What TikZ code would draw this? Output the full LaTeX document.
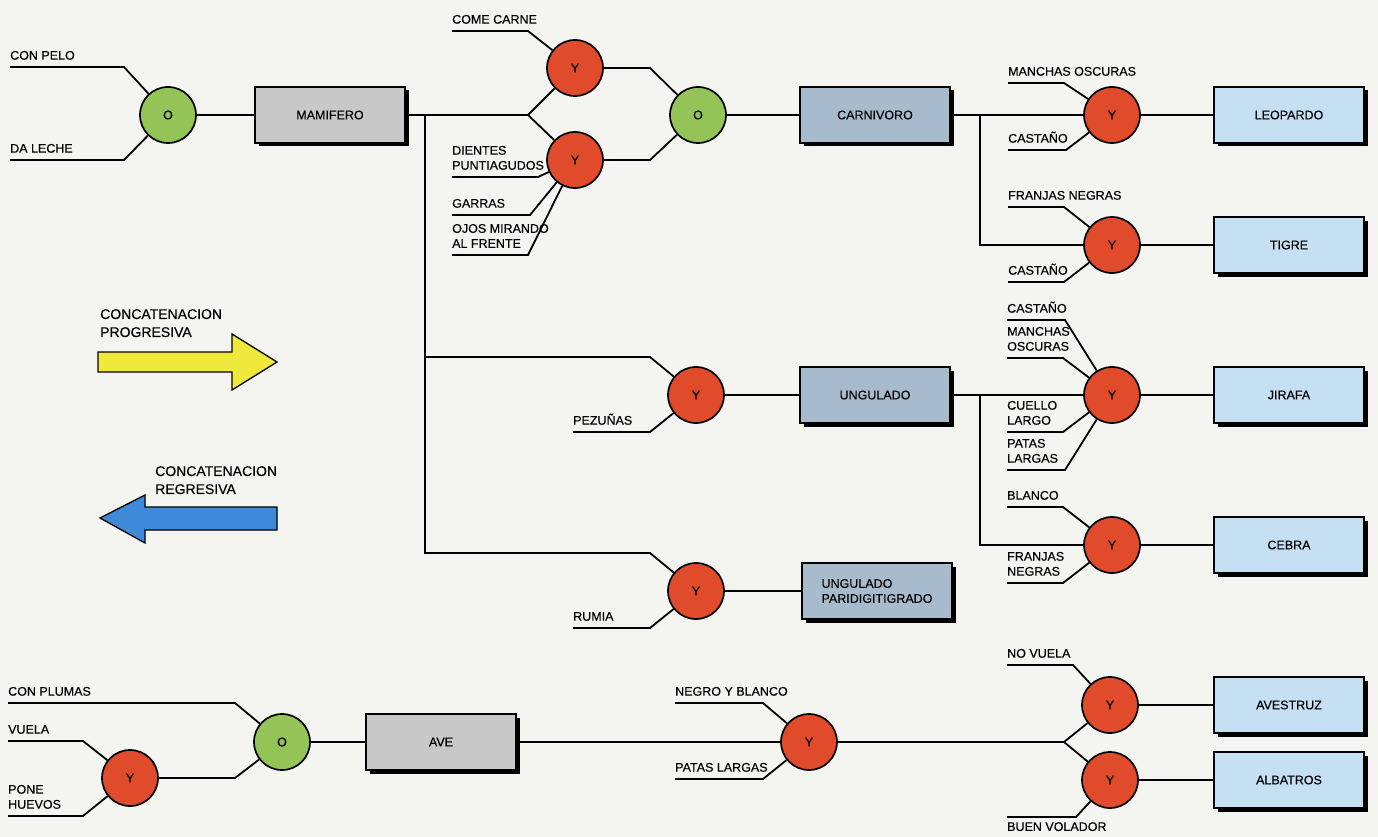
\documentclass[tikz,border=0pt]{standalone}
\usepackage{fontspec}
\setmainfont{Liberation Sans}[FakeBold=0.35]
\usetikzlibrary{shadows}

\definecolor{paper}{HTML}{F4F4F1}
\definecolor{andred}{HTML}{DF4B2B}
\definecolor{orgreen}{HTML}{94C458}
\definecolor{greybox}{HTML}{C8C8C8}
\definecolor{steelbox}{HTML}{A8BBCC}
\definecolor{leafbox}{HTML}{C4E0F2}
\definecolor{arrowyellow}{HTML}{EFE93B}
\definecolor{arrowblue}{HTML}{3F8BDA}

\newcommand\labfont{\fontsize{12.5}{15}\selectfont}
\newcommand\bigfont{\fontsize{14}{18}\selectfont}

\tikzset{
  gate/.style={circle, draw=black, line width=1.7pt, minimum size=56pt,
    inner sep=0pt, font=\labfont},
  andgate/.style={gate, fill=andred},
  orgate/.style={gate, fill=orgreen},
  classbox/.style={rectangle, draw=black, line width=1.1pt,
    minimum width=150pt, minimum height=56pt, inner sep=2pt, align=left,
    font=\labfont,
    drop shadow={shadow xshift=3.5pt, shadow yshift=-3.5pt, fill=black, opacity=1}},
  greyclass/.style={classbox, fill=greybox},
  steelclass/.style={classbox, fill=steelbox},
  leafclass/.style={classbox, fill=leafbox},
  wire/.style={line width=1.8pt, draw=black},
  lab/.style={inner sep=0pt, anchor=south west, align=left, font=\labfont},
  labbelow/.style={lab, anchor=north west},
  biglab/.style={inner sep=0pt, anchor=north west, align=left, font=\bigfont},
  bigarrow/.style={draw=black, line width=1.3pt},
}

\begin{document}
\begin{tikzpicture}[x=1pt, y=-1pt]
  \fill[paper] (0,0) rectangle (1378,837);
  \useasboundingbox (0,0) rectangle (1378,837);

  % ---------- gates ----------
  \node[orgate]  (o1)        at (168,115)  {O};
  \node[andgate] (ycarne)    at (575,68)   {Y};
  \node[andgate] (ydientes)  at (575,160)  {Y};
  \node[orgate]  (o2)        at (698,115)  {O};
  \node[andgate] (yleo)      at (1112,115) {Y};
  \node[andgate] (ytigre)    at (1112,245) {Y};
  \node[andgate] (ypez)      at (696,395)  {Y};
  \node[andgate] (yrumia)    at (696,591)  {Y};
  \node[andgate] (yjir)      at (1112,395) {Y};
  \node[andgate] (ycebra)    at (1112,545) {Y};
  \node[andgate] (yvuela)    at (130,778)  {Y};
  \node[orgate]  (o3)        at (282,742)  {O};
  \node[andgate] (ynegro)    at (809,742)  {Y};
  \node[andgate] (yavestruz) at (1110,705) {Y};
  \node[andgate] (yalbatros) at (1110,780) {Y};

  % ---------- classes ----------
  \node[greyclass]  (mam)      at (330,115)  {MAMIFERO};
  \node[steelclass] (carn)     at (875,115)  {CARNIVORO};
  \node[steelclass] (ung)      at (875,395)  {UNGULADO};
  \node[steelclass] (parid)    at (877,591)  {UNGULADO\\PARIDIGITIGRADO};
  \node[leafclass]  (leo)      at (1289,115) {LEOPARDO};
  \node[leafclass]  (tigre)    at (1289,245) {TIGRE};
  \node[leafclass]  (jirafa)   at (1289,395) {JIRAFA};
  \node[leafclass]  (cebra)    at (1289,545) {CEBRA};
  \node[greyclass]  (ave)      at (441,742)  {AVE};
  \node[leafclass]  (avestruz) at (1289,705) {AVESTRUZ};
  \node[leafclass]  (albatros) at (1289,780) {ALBATROS};

  % ---------- mammal ----------
  \coordinate (conpelo) at (10,67);
  \coordinate (daleche) at (10,160);
  \node[lab] at ([yshift=7pt]conpelo) {CON PELO};
  \node[lab] at ([yshift=7pt]daleche) {DA LECHE};
  \draw[wire] (conpelo) -- ++(114,0) -- (o1);
  \draw[wire] (daleche) -- ++(114,0) -- (o1);
  \draw[wire] (o1) -- (mam);

  \coordinate (split) at (528,115);
  \coordinate (trunk) at (425,115);
  \draw[wire] (mam) -- (split);
  \draw[wire] (split) -- (ycarne);
  \draw[wire] (split) -- (ydientes);
  \draw[wire] (trunk) |- (650,357) -- (ypez);
  \draw[wire] (trunk) |- (650,553) -- (yrumia);

  % ---------- carnivore ----------
  \coordinate (comecarne) at (452,31);
  \coordinate (dientes)   at (452,177);
  \coordinate (garras)    at (452,215);
  \coordinate (ojos)      at (452,255);
  \node[lab] at ([yshift=7pt]comecarne) {COME CARNE};
  \node[lab] at ([yshift=7pt]dientes)   {DIENTES\\PUNTIAGUDOS};
  \node[lab] at ([yshift=7pt]garras)    {GARRAS};
  \node[lab] at ([yshift=7pt]ojos)      {OJOS MIRANDO\\AL FRENTE};
  \draw[wire] (comecarne) -- ++(76,0) -- (ycarne);
  \draw[wire] (dientes) -- ++(86,0) -- (ydientes);
  \draw[wire] (garras) -- ++(78,0) -- (ydientes);
  \draw[wire] (ojos) -- ++(76,0) -- (ydientes);
  \draw[wire] (ycarne) -- (650,68) -- (o2);
  \draw[wire] (ydientes) -- (650,160) -- (o2);
  \draw[wire] (o2) -- (carn);

  \coordinate (carnfork) at (980,115);
  \draw[wire] (carn) -- (yleo);
  \draw[wire] (carnfork) |- (ytigre);

  \coordinate (manchasleo) at (1008,83);
  \coordinate (castleo)    at (1008,150);
  \coordinate (franjastig) at (1008,207);
  \coordinate (casttig)    at (1008,282);
  \node[lab] at ([yshift=7pt]manchasleo) {MANCHAS OSCURAS};
  \node[lab] at ([yshift=7pt]castleo)    {CASTAÑO};
  \node[lab] at ([yshift=7pt]franjastig) {FRANJAS NEGRAS};
  \node[lab] at ([yshift=7pt]casttig)    {CASTAÑO};
  \draw[wire] (manchasleo) -- ++(56,0) -- (yleo);
  \draw[wire] (castleo) -- ++(58,0) -- (yleo);
  \draw[wire] (franjastig) -- ++(56,0) -- (ytigre);
  \draw[wire] (casttig) -- ++(56,0) -- (ytigre);
  \draw[wire] (yleo) -- (leo);
  \draw[wire] (ytigre) -- (tigre);

  % ---------- ungulate ----------
  \coordinate (pezunas) at (573,432);
  \coordinate (rumia)   at (573,628);
  \node[lab] at ([yshift=7pt]pezunas) {PEZUÑAS};
  \node[lab] at ([yshift=7pt]rumia)   {RUMIA};
  \draw[wire] (pezunas) -- ++(77,0) -- (ypez);
  \draw[wire] (rumia) -- ++(77,0) -- (yrumia);
  \draw[wire] (ypez) -- (ung);
  \draw[wire] (yrumia) -- (parid);

  \coordinate (ungfork) at (980,395);
  \draw[wire] (ung) -- (yjir);
  \draw[wire] (ungfork) |- (ycebra);

  \coordinate (castjir)    at (1007,320);
  \coordinate (manchasjir) at (1007,358);
  \coordinate (cuello)     at (1007,432);
  \coordinate (patasjir)   at (1007,470);
  \coordinate (blanco)     at (1007,507);
  \coordinate (franjasceb) at (1007,583);
  \node[lab] at ([yshift=7pt]castjir)    {CASTAÑO};
  \node[lab] at ([yshift=7pt]manchasjir) {MANCHAS\\OSCURAS};
  \node[lab] at ([yshift=7pt]cuello)     {CUELLO\\LARGO};
  \node[lab] at ([yshift=7pt]patasjir)   {PATAS\\LARGAS};
  \node[lab] at ([yshift=7pt]blanco)     {BLANCO};
  \node[lab] at ([yshift=7pt]franjasceb) {FRANJAS\\NEGRAS};
  \draw[wire] (castjir) -- ++(58,0) -- (yjir);
  \draw[wire] (manchasjir) -- ++(56,0) -- (yjir);
  \draw[wire] (cuello) -- ++(56,0) -- (yjir);
  \draw[wire] (patasjir) -- ++(58,0) -- (yjir);
  \draw[wire] (blanco) -- ++(56,0) -- (ycebra);
  \draw[wire] (franjasceb) -- ++(56,0) -- (ycebra);
  \draw[wire] (yjir) -- (jirafa);
  \draw[wire] (ycebra) -- (cebra);

  % ---------- bird ----------
  \coordinate (conplumas)  at (8,703);
  \coordinate (vuela)      at (8,741);
  \coordinate (ponehuevos) at (8,816);
  \node[lab] at ([yshift=7pt]conplumas)  {CON PLUMAS};
  \node[lab] at ([yshift=7pt]vuela)      {VUELA};
  \node[lab] at ([yshift=7pt]ponehuevos) {PONE\\HUEVOS};
  \draw[wire] (conplumas) -- ++(227,0) -- (o3);
  \draw[wire] (vuela) -- ++(75,0) -- (yvuela);
  \draw[wire] (ponehuevos) -- ++(75,0) -- (yvuela);
  \draw[wire] (yvuela) -- (235,778) -- (o3);
  \draw[wire] (o3) -- (ave);
  \draw[wire] (ave) -- (ynegro);

  \coordinate (negro)    at (675,703);
  \coordinate (patasave) at (675,779);
  \node[lab] at ([yshift=7pt]negro)    {NEGRO Y BLANCO};
  \node[lab] at ([yshift=7pt]patasave) {PATAS LARGAS};
  \draw[wire] (negro) -- ++(88,0) -- (ynegro);
  \draw[wire] (patasave) -- ++(88,0) -- (ynegro);

  \coordinate (avfork) at (1064,742);
  \draw[wire] (ynegro) -- (avfork);
  \draw[wire] (avfork) -- (yavestruz);
  \draw[wire] (avfork) -- (yalbatros);

  \coordinate (novuela)     at (1007,665);
  \coordinate (buenvolador) at (1007,817);
  \node[lab] at ([yshift=7pt]novuela) {NO VUELA};
  \node[labbelow] at ([yshift=-5pt]buenvolador) {BUEN VOLADOR};
  \draw[wire] (novuela) -- ++(66,0) -- (yavestruz);
  \draw[wire] (buenvolador) -- ++(69,0) -- (yalbatros);
  \draw[wire] (yavestruz) -- (avestruz);
  \draw[wire] (yalbatros) -- (albatros);

  % ---------- legend arrows ----------
  \node[biglab] (proglab) at (100,309) {CONCATENACION\\PROGRESIVA};
  \filldraw[bigarrow, fill=arrowyellow]
    (98,352) -- (232,352) -- (232,334) -- (277,362) -- (232,390)
    -- (232,372) -- (98,372) -- cycle;
  \node[biglab] (reglab) at (155,466) {CONCATENACION\\REGRESIVA};
  \filldraw[bigarrow, fill=arrowblue]
    (277,507) -- (145,507) -- (145,495) -- (100,518) -- (145,543)
    -- (145,530) -- (277,530) -- cycle;
\end{tikzpicture}
\end{document}
